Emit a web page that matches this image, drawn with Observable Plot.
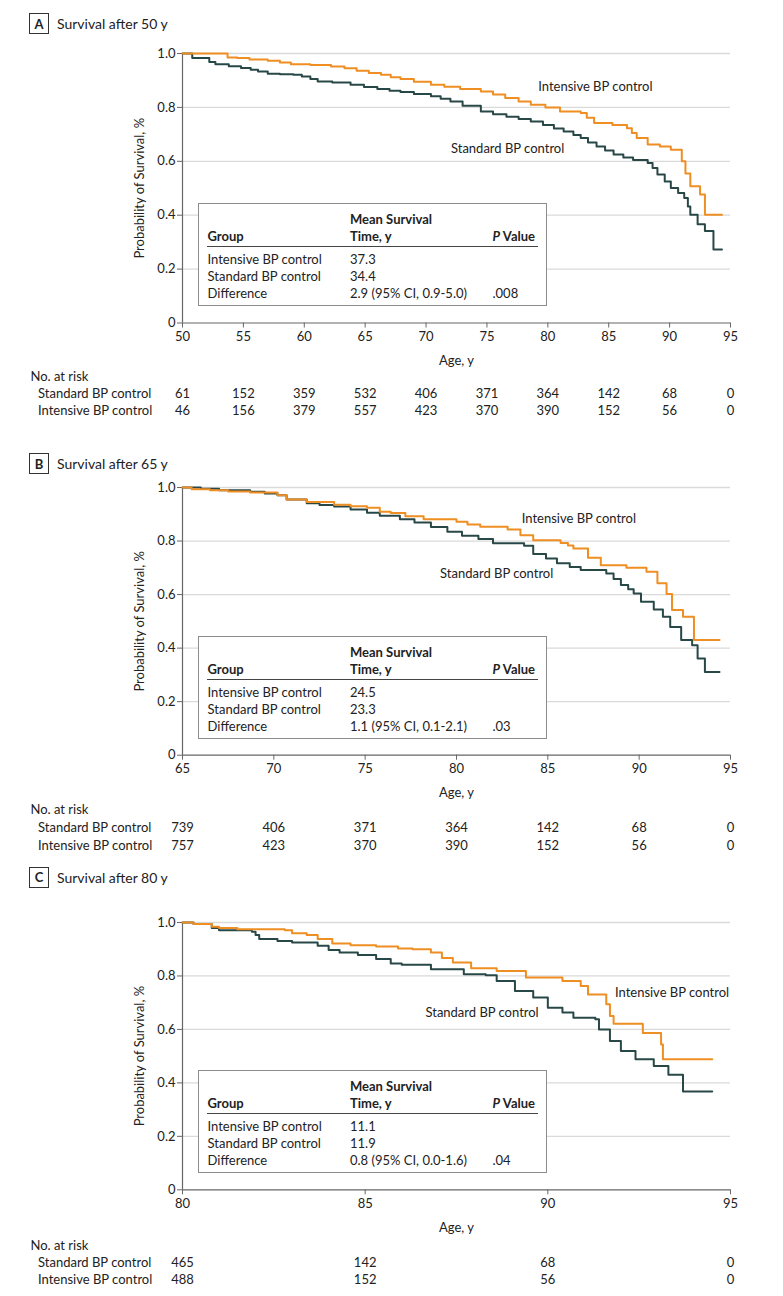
<!DOCTYPE html>
<html>
<head>
<meta charset="utf-8">
<script src="https://cdn.jsdelivr.net/npm/d3@7"></script>
<script src="https://cdn.jsdelivr.net/npm/@observablehq/plot@0.6"></script>
<style>
  html, body { margin: 0; padding: 0; background: #fff; }
  #root { position: relative; width: 783px; height: 1296px; font-family: Lato, "Open Sans", sans-serif; color: #222; overflow: hidden; }
  .title { position: absolute; left: 29px; height: 21px; display: flex; align-items: center; font-size: 14px; white-space: nowrap; }
  .title .box { box-sizing: border-box; width: 20px; height: 21px; border: 1px solid #333; display: inline-flex; align-items: center; justify-content: center; font-weight: bold; font-size: 13px; margin-right: 8px; }
  .tbl { position: absolute; box-sizing: border-box; width: 349px; height: 103px; border: 1px solid #8c8c8c; background: #fff; font-size: 13px; }
  .tbl span { position: absolute; white-space: nowrap; line-height: 16px; transform: translateY(-50%); }
  .tbl .b { font-weight: bold; }
  .tbl .rule { position: absolute; left: 8px; width: 331px; height: 0; border-top: 1.5px solid #444; }
</style>
</head>
<body>
<div id="root"></div>
<script>
// ---------------- data ----------------
const groups = ["Standard BP control", "Intensive BP control"];
const colorStandard = "#284848";
const colorIntensive = "#EF8E22";

// Panel A: survival after 50 y  ([age, survival])
const standardA = [[50,1],[50.8,0.983],[52.2,0.968],[52.7,0.96],[53.8,0.953],[54.8,0.946],[55.6,0.94],[56.2,0.933],[57,0.925],[58,0.923],[59.1,0.921],[59.8,0.915],[60.5,0.905],[61.1,0.896],[62.3,0.892],[63.8,0.884],[64.9,0.876],[66,0.868],[67,0.862],[67.9,0.857],[69,0.85],[70.4,0.841],[71.2,0.832],[72,0.822],[73,0.806],[74.5,0.785],[75.5,0.775],[76.6,0.765],[77.6,0.757],[78.6,0.748],[79.6,0.735],[80.5,0.722],[81.3,0.711],[82.1,0.698],[82.7,0.686],[83.3,0.67],[84,0.655],[84.7,0.64],[85.4,0.625],[86.2,0.614],[87,0.605],[88.2,0.594],[88.6,0.575],[89,0.551],[89.6,0.525],[90.1,0.501],[90.7,0.482],[91.2,0.464],[91.5,0.432],[91.7,0.402],[92.3,0.366],[92.9,0.341],[93.6,0.273],[94.3,0.273]];
const intensiveA = [[50,1],[53.7,0.985],[54.5,0.983],[55.5,0.978],[57,0.973],[58,0.967],[58.9,0.96],[60.5,0.957],[62.2,0.952],[63.3,0.945],[64.3,0.936],[65.3,0.928],[66.3,0.921],[67.1,0.912],[67.9,0.905],[69,0.895],[70.4,0.884],[71.5,0.877],[72.8,0.868],[74.5,0.859],[75.5,0.848],[76.5,0.835],[77.6,0.822],[78.6,0.81],[79.8,0.8],[81,0.785],[82.7,0.779],[83.2,0.762],[83.8,0.742],[85.3,0.735],[86.5,0.723],[86.9,0.705],[87.3,0.686],[88.2,0.662],[89.2,0.655],[90.1,0.643],[91,0.6],[91.3,0.555],[91.7,0.507],[92.5,0.477],[92.9,0.402],[94.3,0.402]];
const ticksA = [50,55,60,65,70,75,80,85,90,95];
const riskStandardA = [61,152,359,532,406,371,364,142,68,0];
const riskIntensiveA = [46,156,379,557,423,370,390,152,56,0];
const tableA = ["37.3", "34.4", "2.9 (95% CI, 0.9-5.0)", ".008"];
const labelsA = [{text:"Intensive BP control", age:83.9, surv:0.878},{text:"Standard BP control", age:76.7, surv:0.647}];

// Panel B: survival after 65 y
const standardB = [[65,1],[66,0.995],[67,0.99],[68.7,0.984],[69.5,0.978],[70.2,0.971],[70.7,0.955],[71.8,0.941],[72.5,0.935],[73.3,0.929],[74.2,0.918],[75.1,0.906],[75.8,0.894],[76.9,0.881],[77.7,0.869],[78.6,0.852],[79.5,0.835],[80.3,0.82],[81.2,0.808],[82,0.792],[83.7,0.782],[84.2,0.752],[84.9,0.735],[85.5,0.717],[86.2,0.703],[86.8,0.692],[88.2,0.679],[88.6,0.658],[89,0.636],[89.4,0.62],[89.7,0.604],[90.1,0.573],[90.8,0.544],[91.3,0.517],[91.7,0.479],[92.3,0.43],[92.9,0.411],[93.2,0.361],[93.6,0.311],[94.4,0.311]];
const intensiveB = [[65,1],[65.5,0.993],[66.5,0.99],[67.5,0.985],[68.7,0.981],[70.2,0.971],[70.7,0.955],[71.8,0.946],[73.3,0.936],[74.2,0.93],[75.1,0.924],[75.8,0.909],[76.4,0.905],[77.2,0.893],[78.2,0.881],[80,0.872],[80.6,0.862],[81.3,0.853],[82.8,0.843],[83.5,0.822],[84.2,0.803],[85.7,0.793],[86.1,0.783],[86.4,0.772],[87.2,0.738],[87.9,0.71],[89.3,0.7],[90.4,0.685],[91,0.642],[91.5,0.602],[91.8,0.542],[92.4,0.517],[93,0.43],[94.4,0.43]];
const ticksB = [65,70,75,80,85,90,95];
const riskStandardB = [739,406,371,364,142,68,0];
const riskIntensiveB = [757,423,370,390,152,56,0];
const tableB = ["24.5", "23.3", "1.1 (95% CI, 0.1-2.1)", ".03"];
const labelsB = [{text:"Intensive BP control", age:86.7, surv:0.882},{text:"Standard BP control", age:82.2, surv:0.676}];

// Panel C: survival after 80 y
const standardC = [[80,1],[80.3,0.994],[80.8,0.979],[81,0.971],[81.9,0.965],[82,0.953],[82.1,0.938],[82.6,0.931],[83,0.925],[83.7,0.913],[84,0.897],[84.3,0.888],[84.8,0.878],[85.3,0.863],[85.7,0.847],[86,0.842],[86.8,0.825],[87.7,0.806],[88.3,0.803],[88.6,0.781],[89.1,0.744],[89.6,0.719],[90,0.681],[90.4,0.663],[90.7,0.644],[91.3,0.638],[91.4,0.6],[91.7,0.557],[92,0.519],[92.4,0.488],[92.9,0.463],[93.3,0.43],[93.7,0.368],[94.5,0.368]];
const intensiveC = [[80,1],[80.3,0.994],[80.8,0.984],[81,0.979],[81.5,0.975],[82.8,0.971],[83,0.96],[83.4,0.953],[83.7,0.938],[84.1,0.921],[84.6,0.915],[85.3,0.91],[85.9,0.903],[86.3,0.9],[86.8,0.888],[87.1,0.867],[87.4,0.85],[87.9,0.829],[88.6,0.819],[89.4,0.794],[90.4,0.781],[90.9,0.762],[91.1,0.731],[91.6,0.694],[91.7,0.65],[91.8,0.621],[92.6,0.587],[93.1,0.544],[93.15,0.488],[94.5,0.488]];
const ticksC = [80,85,90,95];
const riskStandardC = [465,142,68,0];
const riskIntensiveC = [488,152,56,0];
const tableC = ["11.1", "11.9", "0.8 (95% CI, 0.0-1.6)", ".04"];
const labelsC = [{text:"Intensive BP control", age:93.4, surv:0.738},{text:"Standard BP control", age:88.2, surv:0.662}];

const yTicks = [0, 0.2, 0.4, 0.6, 0.8, 1.0];

// ---------------- layout ----------------
const W = 783, ML = 182, MR = 53, MT = 12, MB = 52;
const root = document.getElementById("root");

function place(el, top) {
  el.style.position = "absolute";
  el.style.left = "0px";
  el.style.top = top + "px";
  root.appendChild(el);
}

function panel(cfg) {
  const t = document.createElement("div");
  t.className = "title";
  t.style.top = (cfg.titleY - 10.5) + "px";
  t.innerHTML = `<span class="box">${cfg.letter}</span><span>${cfg.title}</span>`;
  root.appendChild(t);

  const plotH = cfg.y0 - cfg.y1;
  const xmin = cfg.ticks[0];
  const chart = Plot.plot({
    width: W,
    height: MT + plotH + MB,
    marginLeft: ML, marginRight: MR, marginTop: MT, marginBottom: MB,
    style: { fontFamily: "Lato, 'Open Sans', sans-serif", fontSize: "13px", color: "#222", background: "transparent", overflow: "visible" },
    x: { domain: [xmin, 95] },
    y: { domain: [0, 1] },
    marks: [
      Plot.gridY(yTicks.slice(1), { stroke: "#dadada", strokeOpacity: 1, strokeWidth: 1.3 }),
      Plot.ruleY([0], { stroke: "#666", strokeWidth: 1.2 }),
      Plot.ruleX([xmin], { y1: 0, y2: 1, stroke: "#666", strokeWidth: 1.2 }),
      Plot.axisX({ ticks: cfg.ticks, tickSize: 5, tickPadding: 4, stroke: "#666", tickFormat: d => String(d),
        label: "Age, y", labelAnchor: "center", labelArrow: "none", labelOffset: 42 }),
      Plot.axisY({ ticks: yTicks, tickSize: 5, tickPadding: 2, stroke: "#666",
        tickFormat: d => d === 0 ? "0" : d.toFixed(1),
        label: "Probability of Survival, %", labelAnchor: "center", labelArrow: "none", labelOffset: 48 }),
      Plot.line(cfg.standard, { x: d => d[0], y: d => d[1], curve: "step-after", stroke: colorStandard, strokeWidth: 2 }),
      Plot.line(cfg.intensive, { x: d => d[0], y: d => d[1], curve: "step-after", stroke: colorIntensive, strokeWidth: 2 }),
      Plot.text(cfg.labels, { x: "age", y: "surv", text: "text", fill: "#222", fontSize: 13 })
    ]
  });
  place(chart, cfg.y1 - MT);

  const tb = document.createElement("div");
  tb.className = "tbl";
  tb.style.left = "198px";
  tb.style.top = (cfg.y0 - 16 - 103) + "px";
  const v = cfg.table;
  tb.innerHTML = `
    <span class="b" style="left:151px;top:15px">Mean Survival</span>
    <span class="b" style="left:8.5px;top:32px">Group</span>
    <span class="b" style="left:151px;top:32px">Time, y</span>
    <span class="b" style="right:11px;top:32px"><i>P</i> Value</span>
    <div class="rule" style="top:42px"></div>
    <span style="left:8.5px;top:55px">${groups[1]}</span>
    <span style="left:151px;top:55px">${v[0]}</span>
    <span style="left:8.5px;top:72px">${groups[0]}</span>
    <span style="left:151px;top:72px">${v[1]}</span>
    <span style="left:8.5px;top:89px">Difference</span>
    <span style="left:151px;top:89px">${v[2]}</span>
    <span style="left:293.5px;top:89px">${v[3]}</span>`;
  root.appendChild(tb);

  const rows = [];
  cfg.ticks.forEach((a, i) => {
    rows.push({ age: a, group: groups[0], n: cfg.riskStandard[i] });
    rows.push({ age: a, group: groups[1], n: cfg.riskIntensive[i] });
  });
  const risk = Plot.plot({
    width: W, height: 56,
    marginLeft: ML, marginRight: MR, marginTop: 0, marginBottom: 0,
    style: { fontFamily: "Lato, 'Open Sans', sans-serif", fontSize: "13px", color: "#222", background: "transparent", overflow: "visible" },
    x: { domain: [xmin, 95], axis: null },
    y: { type: "point", domain: ["hdr", ...groups], range: [8, 8 + 2 * cfg.rowGap], padding: 0, axis: null },
    marks: [
      Plot.text(["No. at risk"], { y: () => "hdr", text: d => d, frameAnchor: "left", dx: 30 - ML, textAnchor: "start", fill: "#222" }),
      Plot.text(groups, { y: d => d, text: d => d, frameAnchor: "left", dx: 37.5 - ML, textAnchor: "start", fill: "#222" }),
      Plot.text(rows, { x: "age", y: "group", text: "n", fill: "#222" })
    ]
  });
  place(risk, cfg.riskY - 8);
}

panel({ letter: "A", title: "Survival after 50 y", titleY: 23.5, y1: 52.5, y0: 322, ticks: ticksA,
  standard: standardA, intensive: intensiveA, labels: labelsA, table: tableA,
  riskStandard: riskStandardA, riskIntensive: riskIntensiveA, riskY: 375, rowGap: 17.5 });
panel({ letter: "B", title: "Survival after 65 y", titleY: 463.5, y1: 487.3, y0: 755, ticks: ticksB,
  standard: standardB, intensive: intensiveB, labels: labelsB, table: tableB,
  riskStandard: riskStandardB, riskIntensive: riskIntensiveB, riskY: 809, rowGap: 18 });
panel({ letter: "C", title: "Survival after 80 y", titleY: 877, y1: 921.7, y0: 1189, ticks: ticksC,
  standard: standardC, intensive: intensiveC, labels: labelsC, table: tableC,
  riskStandard: riskStandardC, riskIntensive: riskIntensiveC, riskY: 1245, rowGap: 17 });
</script>
</body>
</html>
